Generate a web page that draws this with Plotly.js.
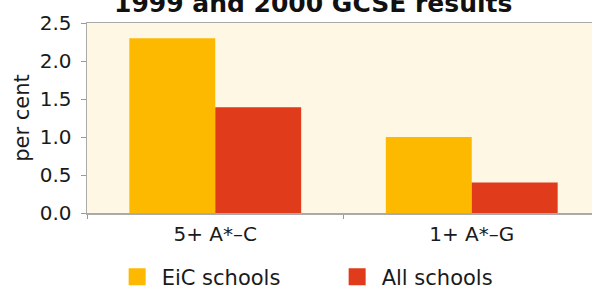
<!DOCTYPE html>
<html><head><meta charset="utf-8">
<script src="https://cdn.plot.ly/plotly-3.0.1.min.js"></script>
<style>html,body{margin:0;padding:0;overflow:hidden;background:#fff}#c{width:600px;height:290px}</style>
</head><body><div id="c"></div>
<script>
const categories = ["5+ A*–C", "1+ A*–G"];
const eicValues = [2.3, 1.0];
const allValues = [1.39, 0.4];
const seriesNames = ["EiC schools", "All schools"];
const yTicks = [0, 0.5, 1.0, 1.5, 2.0, 2.5];
const yTickText = ["0.0", "0.5", "1.0", "1.5", "2.0", "2.5"];

const font = "'DejaVu Sans', sans-serif";
const data = [
  {type: "bar", x: categories, y: eicValues, name: seriesNames[0], marker: {color: "#FDB900"}},
  {type: "bar", x: categories, y: allValues, name: seriesNames[1], marker: {color: "#E03B1A"}}
];
const layout = {
  width: 600, height: 290,
  margin: {l: 87, r: 0, t: 23, b: 77, autoexpand: false},
  paper_bgcolor: "#ffffff",
  plot_bgcolor: "#FEF7E4",
  barmode: "group", bargap: 0.33, bargroupgap: 0,
  font: {family: font, color: "#1a1a1a", size: 20},
  title: {text: "<b>1999 and 2000 GCSE results</b>", x: 0.522, xanchor: "center", xref: "container", y: 0.99, yanchor: "middle", yref: "container", font: {size: 25, family: font, color: "#111"}},
  xaxis: {showline: true, linecolor: "#aaa", linewidth: 1.5, mirror: true, ticks: "outside", tickson: "boundaries", ticklen: 4, tickcolor: "#999", tickfont: {size: 20}, ticklabelstandoff: 2, fixedrange: true},
  yaxis: {range: [0, 2.5], tickvals: yTicks, ticktext: yTickText, showgrid: false, zeroline: false, showline: true, linecolor: "#aaa", linewidth: 1.5, mirror: true, ticks: "outside", ticklen: 5, tickcolor: "#999", tickfont: {size: 20}, ticklabelstandoff: 5,
    title: {text: "per cent", font: {size: 21}, standoff: 4}},
  legend: {orientation: "h", x: 0.05, xanchor: "left", y: -0.337, yanchor: "middle", font: {size: 21}, itemwidth: 39, tracegroupgap: 0, entrywidth: 166, entrywidthmode: "pixels"},
  showlegend: true
};
Plotly.newPlot("c", data, layout, {staticPlot: true, displayModeBar: false}).then(function(gd) {
  gd.querySelectorAll(".legendpoints path").forEach(function(p) {
    p.setAttribute("d", "M8.5,8.5H-8.5V-8.5H8.5Z");
  });
});
</script></body></html>
